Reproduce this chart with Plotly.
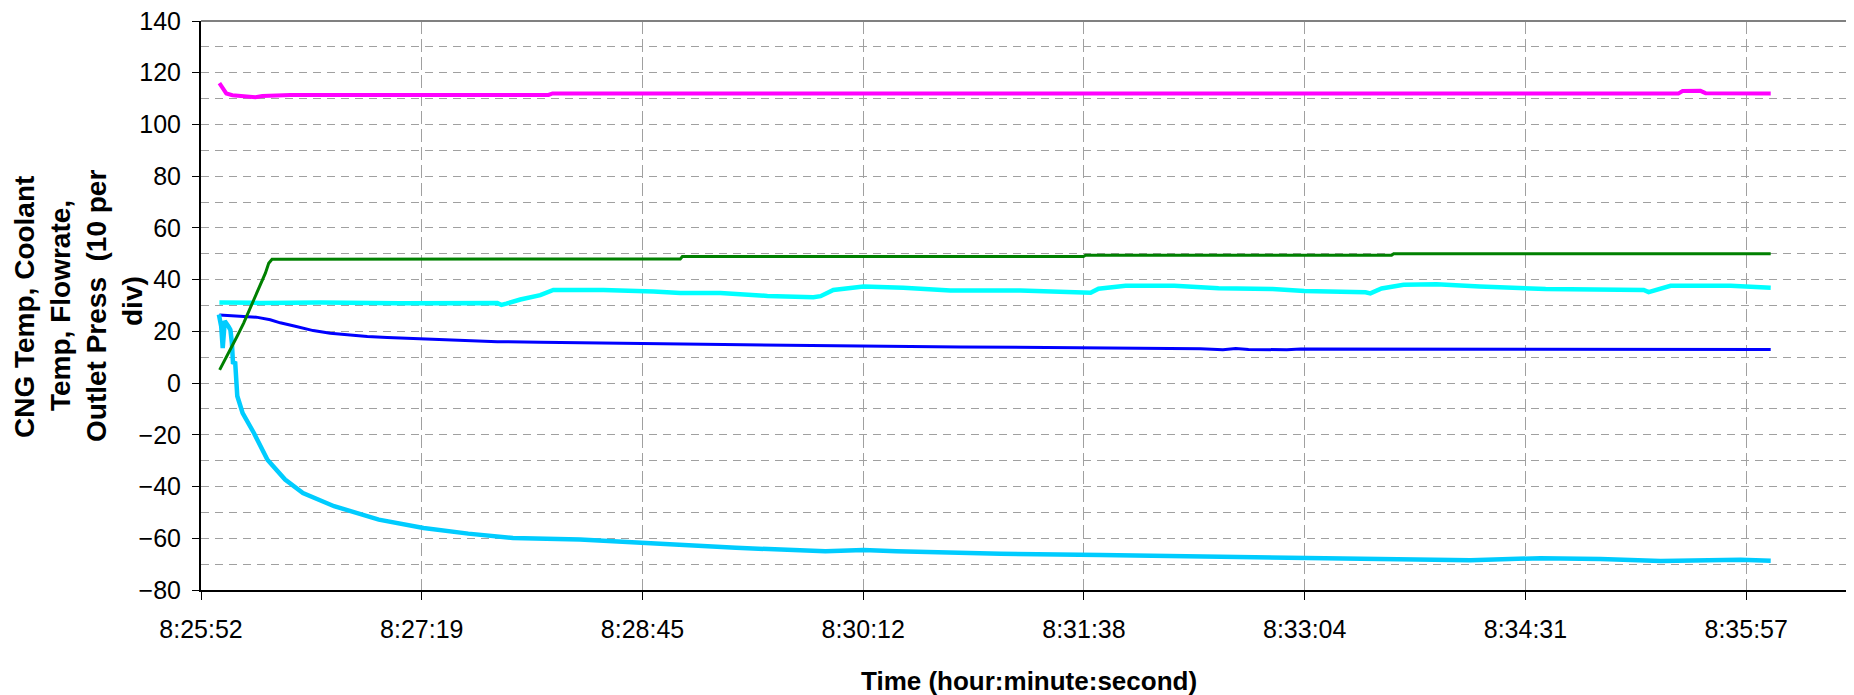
import plotly.graph_objects as go

# ---------------- data (x = seconds after 8:25:52.3, the axis origin) ----------------
TICK_LABELS = ["8:25:52", "8:27:19", "8:28:45", "8:30:12", "8:31:38", "8:33:04", "8:34:31", "8:35:57"]
TICK_STEP_S = 86.4  # Excel major unit: 0.001 day

MAGENTA_T = [7.2, 8.3, 9.1, 9.9, 12.3, 17.3, 21.3, 24.0, 29.1, 35.0, 136.0, 137.6, 578.3, 579.9, 586.9, 588.9, 614.4]
MAGENTA_V = [116, 114.5, 113, 112, 111.3, 110.9, 110.5, 111.0, 111.2, 111.4, 111.4, 112.0, 112.0, 112.9, 113.0, 112.1, 112.0]

CYAN_T = [7.2, 23.2, 46.7, 78.0, 116.0, 117.6, 119.5, 125.0, 132.8, 137.9, 146.5, 157.5, 177.1, 187.6, 203.3,
          221.7, 239.7, 242.5, 247.5, 259.3, 274.9, 293.3, 320.7, 336.4, 348.2, 351.3, 361.9, 381.0, 398.3,
          419.4, 431.9, 455.8, 457.7, 462.1, 470.7, 483.6, 500.5, 526.3, 564.7, 566.6, 575.2, 598.7, 614.4]
CYAN_V = [31.2, 31.0, 31.2, 30.9, 31.0, 30.2, 30.7, 32.3, 34.0, 36.0, 36.0, 36.0, 35.4, 34.8, 34.8,
          33.7, 33.2, 33.6, 36.0, 37.3, 36.9, 35.8, 35.8, 35.2, 34.9, 36.5, 37.6, 37.6, 36.7,
          36.4, 35.6, 35.1, 34.7, 36.6, 38.0, 38.2, 37.3, 36.4, 36.0, 35.2, 37.6, 37.6, 36.9]

BLUE_T = [7.2, 13.4, 21.6, 27.1, 31.0, 36.9, 43.9, 50.6, 57.2, 65.1, 72.9, 85.9, 96.4, 105.4, 116.0, 132.8,
          148.5, 172.0, 195.5, 218.9, 258.1, 297.2, 344.2, 375.6, 391.2, 400.0, 405.0, 410.0, 425.0, 430.4,
          469.5, 508.7, 547.8, 587.0, 614.4]
BLUE_V = [26.3, 26.0, 25.5, 24.5, 23.3, 22.0, 20.3, 19.3, 18.6, 18.0, 17.6, 17.1, 16.8, 16.5, 16.0, 15.8,
          15.6, 15.3, 15.0, 14.6, 14.3, 14.0, 13.7, 13.6, 13.3, 12.9, 13.4, 13.0, 12.9, 13.2,
          13.1, 13.0, 13.0, 13.0, 13.0]

SKY_T = [7.0, 7.9, 8.5, 9.3, 10.7, 11.5, 12.1, 12.5, 13.4, 13.8, 14.2, 16.3, 20.7, 26.0, 32.9, 39.9, 52.1,
         69.6, 87.1, 104.6, 122.1, 148.3, 172.8, 209.4, 244.4, 259.3, 272.2, 293.3, 312.9, 352.1, 391.2,
         430.4, 469.5, 496.9, 524.3, 547.8, 571.3, 587.0, 602.6, 614.4]
SKY_V = [26.5, 22, 13.5, 24, 22, 20.6, 15.5, 8, 7.7, -1, -5, -11.6, -19.3, -29.6, -37.3, -42.5, -47.6,
         -52.8, -56, -58.2, -59.9, -60.5, -61.8, -63.7, -65, -64.5, -65, -65.5, -66, -66.5, -67,
         -67.6, -68, -68.5, -67.7, -68, -68.8, -68.5, -68.3, -68.7]

GREEN_T = [7.3, 10.8, 14.1, 16.7, 19.3, 21.3, 23.2, 25.2, 26.5, 27.8, 187.6, 188.4, 345.4, 346.2, 466.0, 466.8, 614.4]
GREEN_V = [5.1, 11.6, 18, 23.2, 29, 34.1, 38, 42.5, 46.3, 47.9, 48.0, 48.9, 48.9, 49.4, 49.4, 50.0, 50.0]

Y_TITLE_LINES = ["CNG Temp, Coolant", "Temp, Flowrate,", "Outlet Press  (10 per", "div)"]
X_TITLE = "Time (hour:minute:second)"

FONT = "Liberation Sans, Arial, sans-serif"

# the page body adds an 8px margin; size the figure so the plot area lands at
# x 201..1854, y 21..590 of the 1854x695 window
BODY = 8
W, H = 1854 - BODY, 695 - BODY
PLOT_L, PLOT_R, PLOT_T, PLOT_B = 201, 1854, 21, 590


def px_x(p):
    return (p - PLOT_L) / (PLOT_R - PLOT_L)


def px_y(p):
    return (PLOT_B - p) / (PLOT_B - PLOT_T)


fig = go.Figure()
fig.add_trace(go.Scatter(x=MAGENTA_T, y=MAGENTA_V, mode="lines", line=dict(color="#FF00FF", width=4), name="Outlet Press"))
fig.add_trace(go.Scatter(x=CYAN_T, y=CYAN_V, mode="lines", line=dict(color="#00FFFF", width=4.5), name="Coolant Temp"))
fig.add_trace(go.Scatter(x=BLUE_T, y=BLUE_V, mode="lines", line=dict(color="#0000FF", width=3), name="Coolant Temp 2"))
fig.add_trace(go.Scatter(x=SKY_T, y=SKY_V, mode="lines", line=dict(color="#00CCFF", width=4.5), name="CNG Temp"))
fig.add_trace(go.Scatter(x=GREEN_T, y=GREEN_V, mode="lines", line=dict(color="#008000", width=3), name="Flowrate"))

fig.update_layout(
    width=W, height=H,
    margin=dict(l=PLOT_L - BODY, r=0, t=PLOT_T - BODY, b=695 - PLOT_B),
    paper_bgcolor="white", plot_bgcolor="white",
    showlegend=False,
    font=dict(family=FONT, color="black", size=25),
)
fig.update_xaxes(
    range=[0, 647],
    tickmode="array",
    tickvals=[i * TICK_STEP_S for i in range(len(TICK_LABELS))],
    ticktext=TICK_LABELS,
    ticks="outside", ticklen=8, tickwidth=1, tickcolor="black",
    tickfont=dict(size=25, family=FONT),
    ticklabelstandoff=8,
    ticklabeloverflow="allow",
    showline=True, linecolor="black", linewidth=2,
    showgrid=True, gridcolor="#A0A0A0", gridwidth=1, griddash="13px,5px",
    zeroline=False,
)
fig.update_yaxes(
    range=[-80, 140],
    tick0=0, dtick=20,
    ticks="outside", ticklen=7, tickwidth=1, tickcolor="black",
    tickfont=dict(size=25, family=FONT),
    ticklabelstandoff=6,
    ticklabeloverflow="allow",
    showline=True, linecolor="black", linewidth=2,
    showgrid=True, gridcolor="#A0A0A0", gridwidth=1, griddash="8px,6px",
    minor=dict(dtick=10, showgrid=True, gridcolor="#A0A0A0", gridwidth=1, griddash="8px,6px", ticks=""),
    zeroline=False,
)
# top border of plot area
fig.add_shape(type="line", xref="paper", yref="paper", x0=0, x1=1, y0=1, y1=1,
              line=dict(color="#808080", width=2))

# y-axis title, one rotated line each (centres)
for line, cx, cy in zip(Y_TITLE_LINES, [25, 60, 96, 132], [307, 306, 306, 301]):
    fig.add_annotation(
        text=line, xref="paper", yref="paper", x=px_x(cx), y=px_y(cy),
        xanchor="center", yanchor="middle", textangle=-90, showarrow=False,
        font=dict(family=FONT, size=28, color="black", weight="bold"),
    )

fig.add_annotation(
    text=X_TITLE, xref="paper", yref="paper", x=px_x(1029), y=px_y(681),
    xanchor="center", yanchor="middle", showarrow=False,
    font=dict(family=FONT, size=26, color="black", weight="bold"),
)

fig.write_html("out.html")
